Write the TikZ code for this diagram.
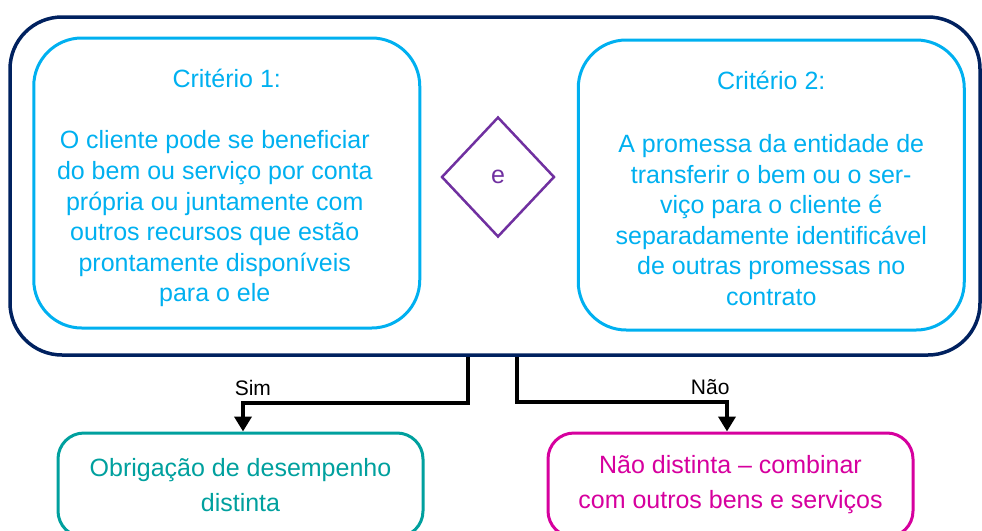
\documentclass[tikz,border=0pt]{standalone}
\usepackage{fontspec}
\setmainfont{Liberation Sans}
\usetikzlibrary{arrows.meta}
\usetikzlibrary{positioning, shapes.geometric}

\definecolor{navy}{RGB}{0,33,95}
\definecolor{ciano}{RGB}{0,176,240}
\definecolor{roxo}{RGB}{112,48,160}
\definecolor{verdeazul}{RGB}{0,160,158}
\definecolor{magenta}{RGB}{214,0,158}

\begin{document}
\begin{tikzpicture}[
  x=1pt, y=-1pt, >={Triangle[length=15pt,width=17pt]},
  every node/.style={align=center,inner sep=0pt},
  outerbox/.style={rectangle,rounded corners=52pt,draw=navy,line width=3.5pt,
    minimum width=970pt,minimum height=338pt},
  critbox/.style={rectangle,rounded corners=48pt,draw=ciano,line width=3pt,
    minimum width=386pt,minimum height=290pt},
  crittitle/.style={text=ciano,font=\fontsize{25}{30}\selectfont},
  crittext/.style={text=ciano,font=\fontsize{25}{30.6}\selectfont},
  resbox/.style={rectangle,rounded corners=26pt,line width=3pt,
    minimum width=365pt,minimum height=104pt,
    font=\fontsize{25}{35}\selectfont},
  link/.style={->,line width=4pt,black},
  lbl/.style={font=\fontsize{21}{24}\selectfont,text=black,inner sep=5pt}
]
\useasboundingbox (0,0) rectangle (982,530);
\clip (0,0) rectangle (982,530);

% --- Criteria inside the outer frame ---
\node[outerbox] (outer) at (495,186) {};
\node[diamond,draw=roxo,line width=2.5pt,minimum width=113pt,minimum height=120pt,
  text=roxo,font=\fontsize{25}{30}\selectfont] (dia) at (498,177) {e};
\node[critbox,left=19pt of dia,yshift=-6pt] (crit1) {};
\node[critbox,right=21pt of dia,yshift=-8pt] (crit2) {};

\node[crittitle] (tit1) at ([yshift=-42pt]crit1.north) {Critério 1:};
\node[crittext] (txt1) at ([xshift=-12pt,yshift=-36pt]crit1.center)
  {O cliente pode se beneficiar\\do bem ou serviço por conta\\
   própria ou juntamente com\\outros recursos que estão\\prontamente disponíveis\\para o ele};
\node[crittitle] (tit2) at ([yshift=-42pt]crit2.north) {Critério 2:};
\node[crittext] (txt2) at ([yshift=-35pt]crit2.center)
  {A promessa da entidade de\\transferir o bem ou o ser-\\
   viço para o cliente é\\separadamente identificável\\de outras promessas no\\contrato};

% --- Outcomes ---
\node[resbox,draw=verdeazul,text=verdeazul] (sim) at (240.5,485)
  {Obrigação de desempenho\\distinta};
\node[resbox,draw=magenta,text=magenta] (nao) at (730.5,485)
  {Não distinta -- combinar\\com outros bens e serviços};

% --- Connectors ---
\draw[link] ([xshift=-27pt]outer.south) -- ++(0,46)
  -| node[lbl,pos=0.478,above] {Sim} ([xshift=2.5pt]sim.north);
\draw[link] ([xshift=22pt]outer.south) -- ++(0,45)
  -| node[lbl,pos=0.46,above] {Não} ([xshift=-3.5pt]nao.north);

\end{tikzpicture}
\end{document}
